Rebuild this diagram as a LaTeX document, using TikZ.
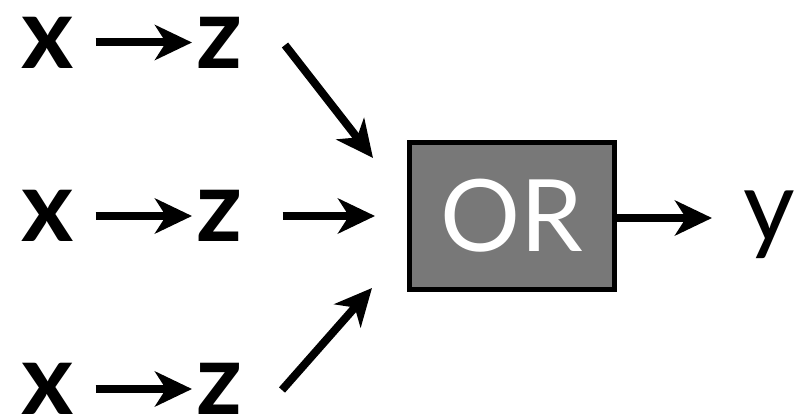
\documentclass[tikz,border=0pt]{standalone}
\usepackage{fontspec}
\setmainfont{Lato}
\usetikzlibrary{arrows.meta}
\definecolor{boxgray}{RGB}{120,120,120}
\tikzset{
  var/.style={inner sep=0pt, font=\fontsize{100}{110}\selectfont\bfseries},
  outvar/.style={inner sep=0pt, font=\fontsize{100}{110}\selectfont},
  gate/.style={draw=black, line width=5pt, fill=boxgray, minimum width=205pt, minimum height=147pt, inner sep=0pt, text=white, font=\fontsize{100}{110}\selectfont},
  arr/.style={line width=8pt, -{Stealth[length=37pt,width=35pt,inset=11pt]}}
}
\begin{document}
\begin{tikzpicture}[x=1pt,y=1pt]
\useasboundingbox (0,0) rectangle (794,415);
% left column
\node[var] (x1) at (47.5,372.5) {x};
\node[var] (z1) at (219.5,372.5) {z};
\node[var] (x2) at (47.5,199) {x};
\node[var] (z2) at (219.5,199) {z};
\node[var] (x3) at (47.5,26) {x};
\node[var] (z3) at (219.5,26) {z};
% gate
\node[gate] (box) at (512,199) {\raisebox{-5pt}{OR}};
% output
\node[outvar, anchor=base] (y) at (769,173) {y};
% arrows x -> z
\draw[arr] ([xshift=48pt]x1.center) -- ([xshift=-27.5pt]z1.center);
\draw[arr] ([xshift=48pt]x2.center) -- ([xshift=-27.5pt]z2.center);
\draw[arr] ([xshift=48pt]x3.center) -- ([xshift=-27.5pt]z3.center);
% arrows z -> gate
\draw[arr] ([shift={(65.5pt,-2.5pt)}]z1.center) -- ([shift={(-139pt,58pt)}]box.center);
\draw[arr] ([xshift=63pt]z2.center) -- ([xshift=-137pt]box.center);
\draw[arr] ([shift={(62.5pt,-1pt)}]z3.center) -- ([shift={(-140pt,-72pt)}]box.center);
% gate -> y
\draw[arr] ([yshift=-2pt]box.east) -- ([shift={(-57pt,24pt)}]y.base);
\end{tikzpicture}
\end{document}
